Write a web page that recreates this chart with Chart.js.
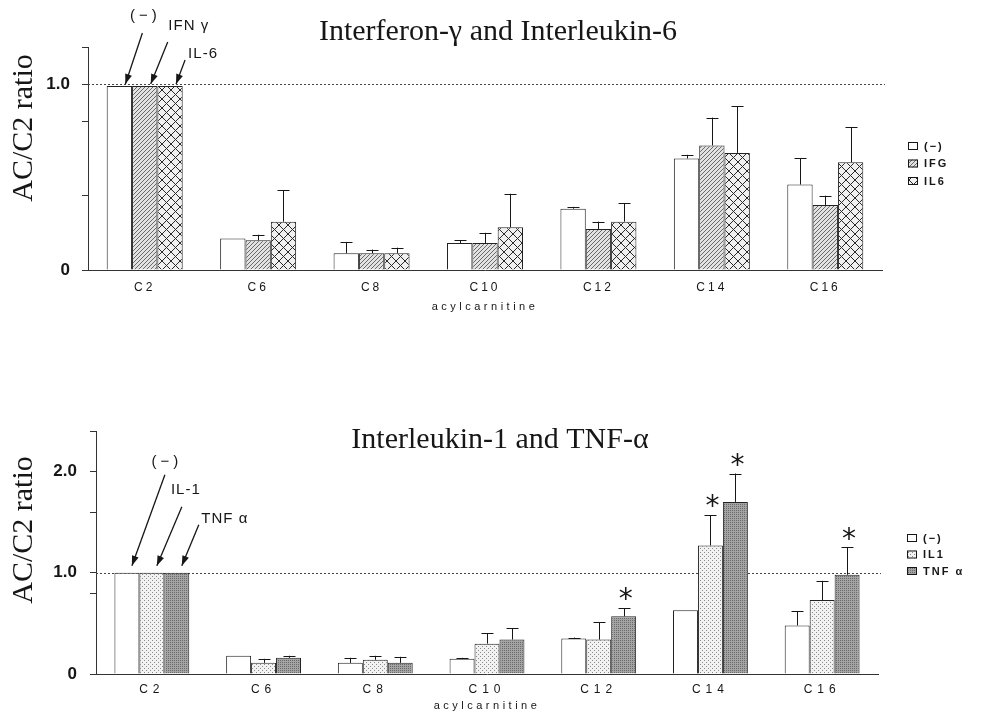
<!DOCTYPE html>
<html><head><meta charset="utf-8">
<script src="https://cdn.jsdelivr.net/npm/chart.js@4"></script>
<style>
html,body{margin:0;padding:0;background:#fff;overflow:hidden;}
#wrap{position:relative;width:988px;height:715px;overflow:hidden;background:#fff;}
#c1{position:absolute;left:0;top:0;}
#c2{position:absolute;left:0;top:380px;}
</style></head><body>
<div id="wrap">
<canvas id="c1" width="996" height="330"></canvas>
<canvas id="c2" width="1000" height="335"></canvas>
</div>
<script>
// ---------------- data ----------------
const categories = ['C2', 'C6', 'C8', 'C10', 'C12', 'C14', 'C16'];
const xAxisTitle = 'acylcarnitine';
const yAxisTitle = 'AC/C2 ratio';
const referenceLevel = 1.0;

// upper panel
const topTitle = 'Interferon-γ and Interleukin-6';
const topSeriesNames = ['(−)', 'IFG', 'IL6'];
const topControl    = [0.99, 0.17, 0.09, 0.145, 0.33, 0.60, 0.46];
const topControlErr = [0, 0, 0.06, 0.015, 0.01, 0.02, 0.14];
const topIFG        = [0.99, 0.16, 0.09, 0.145, 0.22, 0.67, 0.35];
const topIFGErr     = [0, 0.03, 0.02, 0.055, 0.04, 0.15, 0.05];
const topIL6        = [0.99, 0.26, 0.09, 0.23, 0.26, 0.63, 0.58];
const topIL6Err     = [0, 0.17, 0.03, 0.18, 0.10, 0.25, 0.19];
const topTickValues = [0, 0.4, 0.8, 1.0, 1.2];
const topTickLabels = ['0', '', '', '1.0', ''];
const topArrowLabels = ['(−)', 'IFN γ', 'IL-6'];

// lower panel
const bottomTitle = 'Interleukin-1 and TNF-α';
const bottomSeriesNames = ['(−)', 'IL1', 'TNF α'];
const bottomControl    = [1.0, 0.18, 0.11, 0.15, 0.35, 0.63, 0.48];
const bottomControlErr = [0, 0, 0.05, 0.01, 0.01, 0, 0.14];
const bottomIL1        = [1.0, 0.11, 0.14, 0.30, 0.34, 1.27, 0.73];
const bottomIL1Err     = [0, 0.04, 0.04, 0.10, 0.17, 0.30, 0.19];
const bottomTNF        = [1.0, 0.16, 0.11, 0.34, 0.57, 1.70, 0.98];
const bottomTNFErr     = [0, 0.02, 0.06, 0.11, 0.08, 0.28, 0.27];
const bottomControlSig = [false, false, false, false, false, false, false];
const bottomIL1Sig     = [false, false, false, false, false, true, false];
const bottomTNFSig     = [false, false, false, false, true, true, true];
const bottomTickValues = [0, 0.8, 1.0, 1.6, 2.0, 2.4];
const bottomTickLabels = ['0', '', '1.0', '', '2.0', ''];
const bottomArrowLabels = ['(−)', 'IL-1', 'TNF α'];

// ---------------- styles ----------------
function makePattern(size, draw) {
  const c = document.createElement('canvas');
  c.width = c.height = size;
  const x = c.getContext('2d');
  draw(x, size);
  return x.createPattern(c, 'repeat');
}
const fillWhite = '#ffffff';
const fillDiag = makePattern(4, (x, s) => {
  x.fillStyle = '#e2e2e2'; x.fillRect(0, 0, s, s);
  x.strokeStyle = '#6a6a6a'; x.lineWidth = 1;
  x.beginPath(); x.moveTo(0, s); x.lineTo(s, 0); x.stroke();
  x.beginPath(); x.moveTo(-1, 1); x.lineTo(1, -1); x.stroke();
  x.beginPath(); x.moveTo(s - 1, s + 1); x.lineTo(s + 1, s - 1); x.stroke();
});
const fillCross = makePattern(9, (x, s) => {
  x.fillStyle = '#f0f0f0'; x.fillRect(0, 0, s, s);
  x.strokeStyle = '#2a2a2a'; x.lineWidth = 1;
  x.beginPath(); x.moveTo(0, 0); x.lineTo(s, s); x.stroke();
  x.beginPath(); x.moveTo(0, s); x.lineTo(s, 0); x.stroke();
});
const fillLightDots = makePattern(4, (x, s) => {
  x.fillStyle = '#f2f2f2'; x.fillRect(0, 0, s, s);
  x.fillStyle = '#8a8a8a'; x.fillRect(0, 0, 1, 1); x.fillRect(2, 2, 1, 1);
});
const fillDarkDots = makePattern(2, (x, s) => {
  x.fillStyle = '#a4a4a4'; x.fillRect(0, 0, s, s);
  x.fillStyle = '#6a6a6a'; x.fillRect(0, 0, 1, 1);
});

const INK = '#161616';
const SANS = 'Liberation Sans';
const SERIF = 'Liberation Serif';

function spaced(scale, px) {
  if (scale._spacedWrapped) return;
  scale._spacedWrapped = true;
  const dl = scale.drawLabels.bind(scale);
  const dt = scale.drawTitle.bind(scale);
  scale.drawLabels = (a) => { const c = scale.ctx; c.save(); c.letterSpacing = px + 'px'; dl(a); c.restore(); };
  scale.drawTitle = (a) => { const c = scale.ctx; c.save(); c.letterSpacing = '3.5px'; dt(a); c.restore(); };
}

function arrow(ctx, x1, y1, x2, y2) {
  ctx.beginPath(); ctx.moveTo(x1, y1); ctx.lineTo(x2, y2); ctx.stroke();
  const a = Math.atan2(y2 - y1, x2 - x1), L = 10, W = 3.5;
  ctx.beginPath();
  ctx.moveTo(x2, y2);
  ctx.lineTo(x2 - L * Math.cos(a) + W * Math.sin(a), y2 - L * Math.sin(a) - W * Math.cos(a));
  ctx.lineTo(x2 - L * Math.cos(a) - W * Math.sin(a), y2 - L * Math.sin(a) + W * Math.cos(a));
  ctx.closePath(); ctx.fill();
}

function makeDecor(cfg) {
  return {
    id: 'decor',
    beforeDatasetsDraw(chart) {
      const {ctx, chartArea, scales} = chart;
      const y = scales.y.getPixelForValue(referenceLevel);
      ctx.save();
      ctx.strokeStyle = '#444'; ctx.lineWidth = 1; ctx.setLineDash([2, 2]);
      ctx.beginPath(); ctx.moveTo(chartArea.left, Math.round(y) + 0.5); ctx.lineTo(chartArea.right + 3, Math.round(y) + 0.5); ctx.stroke();
      ctx.restore();
    },
    afterDatasetsDraw(chart) {
      const {ctx, scales} = chart;
      ctx.save();
      // error bars + significance marks
      chart.data.datasets.forEach((ds, i) => {
        const meta = chart.getDatasetMeta(i);
        meta.data.forEach((el, j) => {
          const e = ds.errors ? ds.errors[j] : 0;
          const topV = ds.data[j] + (e || 0);
          const yTop = scales.y.getPixelForValue(topV);
          if (e > 0) {
            const x = Math.round(el.x) + 0.5;
            ctx.strokeStyle = INK; ctx.lineWidth = 1; ctx.setLineDash([]);
            ctx.beginPath(); ctx.moveTo(x, el.y); ctx.lineTo(x, yTop);
            ctx.moveTo(x - 6, Math.round(yTop) + 0.5); ctx.lineTo(x + 6, Math.round(yTop) + 0.5); ctx.stroke();
          }
          if (ds.sig && ds.sig[j]) {
            ctx.fillStyle = INK; ctx.font = '28px "DejaVu Sans"';
            ctx.textAlign = 'center'; ctx.textBaseline = 'alphabetic';
            ctx.fillText('*', el.x + 2, yTop - 16 + 0.58 * 28);
          }
        });
      });
      // legend
      ctx.letterSpacing = '2px';
      ctx.font = 'bold 11px "' + SANS + '"';
      ctx.textAlign = 'left'; ctx.textBaseline = 'middle';
      chart.data.datasets.forEach((ds, i) => {
        const yy = cfg.legend.y + i * cfg.legend.dy;
        ctx.fillStyle = ds.backgroundColor;
        ctx.fillRect(cfg.legend.x, yy - 4, 10, 8);
        ctx.strokeStyle = INK; ctx.lineWidth = 1;
        ctx.strokeRect(cfg.legend.x + 0.5, yy - 4 + 0.5, 9, 7);
        ctx.fillStyle = INK;
        ctx.fillText(ds.label, cfg.legend.x + 16, yy + 0.5);
      });
      ctx.letterSpacing = '0px';
      // y axis title
      ctx.save();
      ctx.translate(cfg.yTitle.x, cfg.yTitle.y);
      ctx.rotate(-Math.PI / 2);
      ctx.font = '30px "' + SERIF + '"';
      ctx.fillStyle = INK; ctx.textAlign = 'center'; ctx.textBaseline = 'middle';
      ctx.fillText(yAxisTitle, 0, 0);
      ctx.restore();
      // arrows pointing at first-category bars
      ctx.strokeStyle = INK; ctx.fillStyle = INK; ctx.lineWidth = 1.3;
      cfg.arrows.forEach((a, i) => {
        const el = chart.getDatasetMeta(i).data[0];
        const tx = el.x + cfg.tip.dx, ty = el.y + cfg.tip.dy;
        arrow(ctx, tx + a.sx, ty + a.sy, tx, ty);
        ctx.font = '15px "' + SANS + '"';
        ctx.letterSpacing = a.ls + 'px';
        ctx.textAlign = 'center'; ctx.textBaseline = 'middle';
        ctx.fillText(a.label, tx + a.dx, ty + a.dy);
        ctx.letterSpacing = '0px';
      });
      ctx.restore();
    }
  };
}

function yScale(max, values, labels, width, pad) {
  return {
    type: 'linear', position: 'left', min: 0, max: max,
    afterBuildTicks: (s) => { s.ticks = values.map(v => ({value: v})); },
    afterFit: (s) => { s.width = width; },
    grid: { display: true, drawOnChartArea: false, drawTicks: true, tickLength: 6, color: '#333' },
    border: { display: true, color: '#333', width: 1 },
    ticks: {
      padding: pad, color: INK, autoSkip: false,
      font: { family: SANS, size: 17, weight: 'bold' },
      callback: (v, i) => labels[i]
    }
  };
}
function xScale(height, pad, titlePad, ls) {
  return {
    type: 'category', position: 'bottom', offset: true,
    afterFit: (s) => { s.height = height; spaced(s, ls); },
    grid: { display: false },
    border: { display: true, color: '#333', width: 1 },
    ticks: { padding: pad, color: INK, autoSkip: false, maxRotation: 0, font: { family: SANS, size: 12 } },
    title: { display: true, text: xAxisTitle, color: INK, font: { family: SANS, size: 11 }, padding: { top: 0, bottom: titlePad } }
  };
}
function padScale(width) {
  return {
    type: 'linear', position: 'right', display: true,
    afterFit: (s) => { s.width = width; },
    grid: { display: false }, border: { display: false }, ticks: { display: false }
  };
}
function bars(label, data, errors, fill, sig) {
  return { label, data, errors, sig, backgroundColor: fill, borderColor: '#222', borderWidth: 1,
           barPercentage: 1.0, categoryPercentage: 0.67 };
}

Chart.defaults.font.family = SANS;

new Chart(document.getElementById('c1'), {
  type: 'bar',
  data: {
    labels: categories,
    datasets: [
      bars(topSeriesNames[0], topControl, topControlErr, fillWhite),
      bars(topSeriesNames[1], topIFG, topIFGErr, fillDiag),
      bars(topSeriesNames[2], topIL6, topIL6Err, fillCross)
    ]
  },
  options: {
    responsive: false, animation: false, devicePixelRatio: 1,
    layout: { padding: 0 },
    scales: { x: xScale(60, 2, 16, 3), y: yScale(1.2, topTickValues, topTickLabels, 88, 12), pad: padScale(114) },
    plugins: {
      legend: { display: false }, tooltip: { enabled: false },
      title: { display: true, text: topTitle, color: INK, font: { family: SERIF, size: 30, weight: 'normal' }, padding: { top: 14, bottom: -3 } }
    }
  },
  plugins: [makeDecor({
    legend: { x: 908, y: 146, dy: 17.5 },
    yTitle: { x: 24, y: 128 },
    tip: { dx: 6, dy: -2 },
    arrows: [
      { label: topArrowLabels[0], dx: 20, dy: -68, sx: 17, sy: -51, ls: 4 },
      { label: topArrowLabels[1], dx: 38, dy: -58, sx: 17, sy: -42, ls: 1 },
      { label: topArrowLabels[2], dx: 27, dy: -30, sx: 9, sy: -24, ls: 1 }
    ]
  })]
});

new Chart(document.getElementById('c2'), {
  type: 'bar',
  data: {
    labels: categories,
    datasets: [
      bars(bottomSeriesNames[0], bottomControl, bottomControlErr, fillWhite, bottomControlSig),
      bars(bottomSeriesNames[1], bottomIL1, bottomIL1Err, fillLightDots, bottomIL1Sig),
      bars(bottomSeriesNames[2], bottomTNF, bottomTNFErr, fillDarkDots, bottomTNFSig)
    ]
  },
  options: {
    responsive: false, animation: false, devicePixelRatio: 1,
    layout: { padding: 0 },
    scales: { x: xScale(41, 0, 2, 5), y: yScale(2.4, bottomTickValues, bottomTickLabels, 96, 13), pad: padScale(122) },
    plugins: {
      legend: { display: false }, tooltip: { enabled: false },
      title: { display: true, text: bottomTitle, color: INK, font: { family: SERIF, size: 30, weight: 'normal' }, padding: { top: 42, bottom: -27 } }
    }
  },
  plugins: [makeDecor({
    legend: { x: 907, y: 158, dy: 16.5 },
    yTitle: { x: 24, y: 150 },
    tip: { dx: 5, dy: -7 },
    arrows: [
      { label: bottomArrowLabels[0], dx: 35, dy: -104, sx: 33, sy: -91, ls: 4 },
      { label: bottomArrowLabels[1], dx: 29, dy: -76, sx: 25, sy: -59, ls: 1 },
      { label: bottomArrowLabels[2], dx: 43, dy: -47, sx: 17, sy: -41, ls: 1 }
    ]
  })]
});
</script>
</body></html>
